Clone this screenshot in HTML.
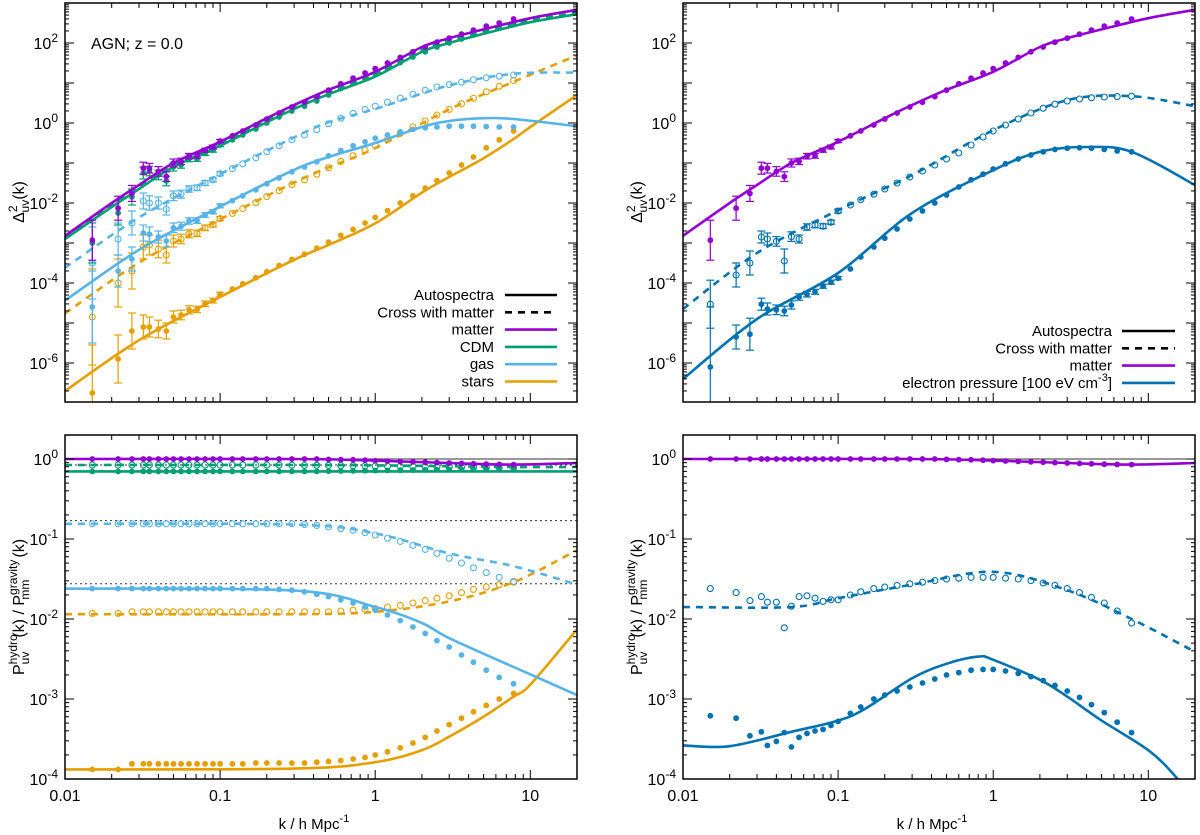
<!DOCTYPE html>
<html><head><meta charset="utf-8">
<style>
html,body{margin:0;padding:0;background:#fff;}
svg{display:block;font-family:"Liberation Sans",sans-serif;}
</style></head>
<body>
<svg id="fig" width="1200" height="835" viewBox="0 0 1200 835" xmlns="http://www.w3.org/2000/svg"></svg>
<script>
// ---------- data (log10 values) ----------
const kPts = [0.015,0.022,0.027,0.032,0.035,0.04,0.045,0.05,0.056,0.063,0.071,0.08,0.09,0.1,0.12,0.14,0.17,0.2,0.24,0.29,0.35,0.42,0.5,0.6,0.72,0.86,1.0,1.2,1.45,1.75,2.1,2.5,3.0,3.6,4.3,5.2,6.3,7.8];

// top-left curves
const kMatC = [0.01,0.02,0.03,0.05,0.1,0.2,0.3,0.5,1,2,3,5,10,20];
const matC  = [-2.82,-2.0,-1.55,-1.0,-0.47,0.12,0.45,0.83,1.28,1.9,2.12,2.34,2.62,2.83];
const cdmC  = [-2.9,-2.1,-1.65,-1.1,-0.57,0.02,0.35,0.72,1.16,1.78,2.0,2.23,2.52,2.72];
const cdmXC = [-2.86,-2.05,-1.6,-1.05,-0.52,0.07,0.4,0.77,1.21,1.83,2.06,2.28,2.56,2.76];
const kGasXC = [0.01,0.03,0.1,0.3,0.5,1,3,7.8,20];
const gasXC  = [-3.62,-2.36,-1.28,-0.36,0.02,0.35,0.94,1.23,1.26];
const kGasAC = [0.01,0.03,0.1,0.3,0.5,1,2,3,5,7.8,20];
const gasAC  = [-4.44,-3.17,-2.09,-1.17,-0.85,-0.5,-0.1,0.05,0.12,0.1,-0.08];
const kStarXC = [0.01,0.03,0.1,0.3,0.5,1,3,7.8,20];
const starXC  = [-4.76,-3.49,-2.41,-1.49,-1.11,-0.63,0.34,1.03,1.69];
const kStarAC = [0.01,0.03,0.1,0.3,0.5,1,2,3,5,7.8,10,20];
const starAC  = [-6.7,-5.43,-4.35,-3.42,-3.05,-2.51,-1.74,-1.35,-0.88,-0.4,-0.1,0.7];

// top-left points
const matP  = [-2.93,-2.13,-1.76,-1.13,-1.13,-1.21,-1.34,-1.0,-0.96,-0.83,-0.82,-0.68,-0.6,-0.45,-0.32,-0.2,-0.05,0.1,0.25,0.4,0.52,0.66,0.82,0.98,1.12,1.25,1.36,1.5,1.64,1.78,1.9,2.02,2.12,2.22,2.32,2.42,2.5,2.6];
const cdmP  = [-3.0,-2.25,-1.85,-1.25,-1.2,-1.3,-1.45,-1.1,-1.05,-0.9,-0.9,-0.76,-0.68,-0.55,-0.42,-0.3,-0.15,0.0,0.15,0.3,0.42,0.55,0.7,0.86,1.0,1.12,1.23,1.37,1.51,1.65,1.78,1.9,2.0,2.1,2.2,2.3,2.4,2.5];
const gasXP = [-3.5,-2.9,-2.5,-1.95,-2.0,-2.0,-2.15,-1.82,-1.78,-1.65,-1.62,-1.5,-1.42,-1.27,-1.14,-1.02,-0.87,-0.72,-0.57,-0.42,-0.3,-0.17,-0.02,0.12,0.24,0.34,0.42,0.52,0.62,0.72,0.82,0.9,0.96,1.02,1.08,1.13,1.17,1.2];
const gasAP = [-4.6,-3.7,-3.4,-2.75,-2.78,-2.85,-2.95,-2.62,-2.58,-2.45,-2.44,-2.3,-2.22,-2.07,-1.94,-1.82,-1.67,-1.52,-1.37,-1.22,-1.1,-0.97,-0.82,-0.69,-0.57,-0.47,-0.38,-0.3,-0.22,-0.16,-0.12,-0.1,-0.08,-0.08,-0.08,-0.09,-0.1,-0.1];
const starXP = [-4.85,-4.0,-3.7,-3.1,-3.05,-3.15,-3.3,-2.95,-2.9,-2.77,-2.76,-2.62,-2.54,-2.39,-2.26,-2.14,-1.99,-1.84,-1.69,-1.54,-1.42,-1.28,-1.12,-0.96,-0.82,-0.68,-0.56,-0.41,-0.26,-0.1,0.05,0.2,0.34,0.48,0.62,0.78,0.92,1.06];
const starAP = [-6.75,-5.9,-5.2,-5.1,-5.1,-5.15,-5.2,-4.85,-4.8,-4.67,-4.66,-4.52,-4.44,-4.28,-4.15,-4.02,-3.87,-3.72,-3.56,-3.41,-3.28,-3.13,-2.98,-2.81,-2.66,-2.5,-2.36,-2.19,-2.0,-1.82,-1.63,-1.44,-1.25,-1.05,-0.85,-0.62,-0.42,-0.2];
// error bars (dex) on first points
const errMat  = [0.5,0.3,0.2,0.15,0.12,0.12,0.12,0.1,0.08,0.07,0.06,0.05,0.05,0.04];
const errGas  = [0.9,0.4,0.3,0.2,0.18,0.15,0.15,0.12,0.1,0.08,0.07,0.06,0.05,0.05];
const errStar = [1.2,0.6,0.45,0.3,0.25,0.22,0.2,0.15,0.12,0.1,0.08,0.07,0.06,0.05];

// top-right pressure
const kPXC = [0.01,0.03,0.1,0.3,1,3,7.8,20];
const pXC  = [-4.65,-3.25,-2.18,-1.3,-0.18,0.57,0.67,0.42];
const kPAC = [0.01,0.03,0.1,0.3,1,2,4,7.8,20];
const pAC  = [-6.4,-4.9,-3.75,-2.25,-1.18,-0.72,-0.6,-0.72,-1.55];
const pXP = [-4.53,-3.8,-3.5,-2.85,-2.9,-2.96,-3.45,-2.84,-2.9,-2.6,-2.55,-2.58,-2.48,-2.2,-2.05,-1.92,-1.78,-1.65,-1.5,-1.35,-1.2,-1.05,-0.9,-0.75,-0.55,-0.35,-0.2,-0.05,0.1,0.25,0.37,0.47,0.55,0.6,0.63,0.65,0.66,0.67];
const pAP = [-6.1,-5.35,-5.28,-4.53,-4.65,-4.67,-4.7,-4.55,-4.35,-4.28,-4.22,-4.08,-3.98,-3.88,-3.65,-3.35,-3.1,-2.88,-2.65,-2.4,-2.2,-2.0,-1.8,-1.6,-1.42,-1.28,-1.15,-1.02,-0.9,-0.8,-0.72,-0.66,-0.63,-0.62,-0.63,-0.66,-0.7,-0.72];
const errPX = [0.6,0.3,0.3,0.15,0.15,0.12,0.3,0.12,0.1,0.08,0.07,0.06,0.05,0.05];
const errPA = [1.5,0.3,0.4,0.15,0.15,0.12,0.12,0.1,0.08,0.07,0.06,0.05,0.05,0.04];

// bottom-left ratios
const kRMC = [0.01,0.3,1,3,7.8,20];
const rMatC = [0,0,-0.02,-0.05,-0.07,-0.05];
const rCdmAC = [-0.155,-0.155,-0.155,-0.155,-0.155,-0.155];
const rCdmXC = [-0.075,-0.075,-0.08,-0.09,-0.1,-0.1];
const rGasXC = [-0.81,-0.82,-0.93,-1.18,-1.34,-1.57];
const rStarXC = [-1.94,-1.94,-1.91,-1.78,-1.54,-1.14];
const kRGAC = [0.01,0.3,1,2,3,7.8,20];
const rGasAC = [-1.62,-1.645,-1.85,-2.05,-2.24,-2.6,-2.95];
const kRSAC = [0.01,0.3,1,2,3,5,7.8,10,20];
const rStarAC = [-3.88,-3.87,-3.79,-3.64,-3.47,-3.22,-2.97,-2.82,-2.13];
const rMatP = [0,0,0,0,0,0,0,0,0,0,0,0,0,0,0,0,0,0,0,0,0,0,-0.005,-0.008,-0.01,-0.015,-0.02,-0.025,-0.03,-0.035,-0.04,-0.045,-0.05,-0.055,-0.06,-0.065,-0.068,-0.07];
const rCdmAP = [-0.155,-0.155,-0.155,-0.155,-0.155,-0.155,-0.155,-0.155,-0.155,-0.155,-0.155,-0.155,-0.155,-0.155,-0.155,-0.155,-0.155,-0.155,-0.155,-0.155,-0.155,-0.155,-0.152,-0.15,-0.148,-0.146,-0.144,-0.142,-0.14,-0.138,-0.136,-0.134,-0.132,-0.13,-0.128,-0.127,-0.126,-0.125];
const rCdmXP = [-0.075,-0.075,-0.075,-0.075,-0.075,-0.075,-0.075,-0.075,-0.075,-0.075,-0.075,-0.075,-0.075,-0.075,-0.075,-0.075,-0.075,-0.075,-0.076,-0.077,-0.078,-0.079,-0.08,-0.082,-0.084,-0.086,-0.088,-0.09,-0.092,-0.094,-0.096,-0.098,-0.1,-0.102,-0.104,-0.106,-0.108,-0.11];
const rGasXP = [-0.81,-0.81,-0.81,-0.81,-0.81,-0.81,-0.81,-0.81,-0.81,-0.81,-0.81,-0.81,-0.81,-0.81,-0.81,-0.81,-0.81,-0.81,-0.81,-0.81,-0.82,-0.83,-0.85,-0.87,-0.89,-0.92,-0.95,-0.99,-1.03,-1.08,-1.13,-1.18,-1.24,-1.3,-1.36,-1.42,-1.48,-1.53];
const rGasAP = [-1.62,-1.62,-1.62,-1.62,-1.62,-1.62,-1.62,-1.62,-1.62,-1.62,-1.62,-1.62,-1.62,-1.62,-1.62,-1.62,-1.62,-1.62,-1.63,-1.64,-1.66,-1.69,-1.72,-1.76,-1.8,-1.85,-1.89,-1.95,-2.02,-2.1,-2.18,-2.27,-2.35,-2.45,-2.54,-2.64,-2.73,-2.81];
const rStarXP = [-1.93,-1.93,-1.91,-1.91,-1.91,-1.91,-1.91,-1.91,-1.91,-1.91,-1.91,-1.91,-1.91,-1.91,-1.91,-1.91,-1.91,-1.91,-1.91,-1.91,-1.91,-1.91,-1.91,-1.9,-1.89,-1.88,-1.87,-1.85,-1.83,-1.8,-1.77,-1.74,-1.71,-1.67,-1.63,-1.6,-1.57,-1.54];
const rStarAP = [-3.88,-3.88,-3.81,-3.81,-3.81,-3.81,-3.81,-3.81,-3.81,-3.81,-3.81,-3.81,-3.81,-3.81,-3.81,-3.81,-3.8,-3.8,-3.8,-3.8,-3.8,-3.79,-3.78,-3.77,-3.75,-3.73,-3.7,-3.66,-3.61,-3.55,-3.48,-3.4,-3.32,-3.24,-3.16,-3.08,-3.0,-2.93];
const refLines = [0, -0.075, -0.77, -1.56];

// bottom-right ratios
const kRPXC = [0.01,0.05,0.1,0.3,1,3,7.8,20];
const rPXC = [-1.85,-1.85,-1.74,-1.57,-1.41,-1.64,-2.0,-2.41];
const kRPAC = [0.01,0.02,0.05,0.1,0.15,0.3,0.5,0.8,1,2,3,5,10,15,20];
const rPAC = [-3.58,-3.59,-3.41,-3.27,-3.12,-2.74,-2.56,-2.47,-2.51,-2.76,-2.97,-3.27,-3.64,-3.97,-4.3];
const rPXP = [-1.62,-1.67,-1.77,-1.72,-1.79,-1.79,-2.11,-1.84,-1.72,-1.71,-1.74,-1.78,-1.76,-1.76,-1.7,-1.66,-1.62,-1.6,-1.58,-1.56,-1.54,-1.52,-1.5,-1.49,-1.48,-1.48,-1.48,-1.49,-1.5,-1.52,-1.55,-1.58,-1.62,-1.67,-1.73,-1.8,-1.9,-2.05];
const rPAP = [-3.21,-3.24,-3.46,-3.41,-3.58,-3.53,-3.42,-3.6,-3.48,-3.43,-3.4,-3.38,-3.33,-3.28,-3.18,-3.1,-3.0,-2.95,-2.9,-2.85,-2.8,-2.75,-2.7,-2.67,-2.64,-2.63,-2.63,-2.65,-2.68,-2.72,-2.77,-2.83,-2.9,-2.98,-3.07,-3.17,-3.29,-3.42];

const xTicks = [0.01,0.1,1,10];
const xTickLabels = ["0.01","0.1","1","10"];
const topYLabels = [2,0,-2,-4,-6];
const botYLabels = [0,-1,-2,-3,-4];

const C = {mat:"#9400d3", cdm:"#009e73", gas:"#56b4e9", star:"#e69f00", pe:"#0072b2"};
// ---------- helpers ----------
const svg = document.getElementById('fig');
const NS = "http://www.w3.org/2000/svg";
function mk(tag, attrs, parent){ const e=document.createElementNS(NS,tag); for(const a in attrs) e.setAttribute(a,attrs[a]); (parent||svg).appendChild(e); return e; }

function panel(x0, top, w, h, lo, hi){
  const xs = k => x0 + (Math.log10(k)+2)/(Math.log10(20)+2)*w;
  const ys = lv => top + (hi-lv)/(hi-lo)*h;
  return {x0, top, w, h, lo, hi, xs, ys};
}
const PTL = panel(65, 3, 512, 399, -6.975, 3);
const PTR = panel(683, 3, 512, 399, -6.975, 3);
const PBL = panel(65, 435, 512, 344, -4, 0.3);
const PBR = panel(683, 435, 512, 344, -4, 0.3);

function clip(P, id){
  const d = mk('clipPath',{id});
  mk('rect',{x:P.x0,y:P.top,width:P.w,height:P.h},d);
}
function smoothPath(pts){
  let d = `M${pts[0][0].toFixed(1)},${pts[0][1].toFixed(1)}`;
  for(let i=0;i<pts.length-1;i++){
    const p0=pts[Math.max(0,i-1)], p1=pts[i], p2=pts[i+1], p3=pts[Math.min(pts.length-1,i+2)];
    const c1=[p1[0]+(p2[0]-p0[0])/6, p1[1]+(p2[1]-p0[1])/6];
    const c2=[p2[0]-(p3[0]-p1[0])/6, p2[1]-(p3[1]-p1[1])/6];
    d+=` C${c1[0].toFixed(1)},${c1[1].toFixed(1)} ${c2[0].toFixed(1)},${c2[1].toFixed(1)} ${p2[0].toFixed(1)},${p2[1].toFixed(1)}`;
  }
  return d;
}
function curve(P, g, ks, vs, color, dashed, name){
  const pts = ks.map((k,i)=>[P.xs(k), P.ys(vs[i])]);
  const e = mk('path',{d:smoothPath(pts), fill:'none', stroke:color, 'stroke-width':2.6, 'stroke-dasharray': dashed?'7,6':'none'}, g);
  
  
}
function points(P, g, vs, color, open, name, errs){
  const grp = mk('g',{},g);
  
  
  vs.forEach((v,i)=>{
    const x=P.xs(kPts[i]), y=P.ys(v);
    if(errs && i<errs.length){
      const y1=P.ys(v+errs[i]), y2=P.ys(v-errs[i]);
      mk('line',{x1:x,y1:y1,x2:x,y2:y2,stroke:color,'stroke-width':1.2},grp);
      mk('line',{x1:x-4,y1:y1,x2:x+4,y2:y1,stroke:color,'stroke-width':1.2},grp);
      mk('line',{x1:x-4,y1:y2,x2:x+4,y2:y2,stroke:color,'stroke-width':1.2},grp);
    }
    if(open) mk('circle',{cx:x,cy:y,r:3,fill:'none',stroke:color,'stroke-width':1.1},grp);
    else mk('circle',{cx:x,cy:y,r:2.9,fill:color},grp);
  });
}
function frame(P, name, yLabelDecades, everyDecadeTicks){
  const g = mk('g',{});
  
  
  // x ticks
  for(let d=-2; d<=1; d++){
    for(let m=1; m<=9; m++){
      const k=m*Math.pow(10,d); if(k>20) break;
      const x=P.xs(k), L = m===1?9:5;
      mk('line',{x1:x,y1:P.top+P.h,x2:x,y2:P.top+P.h-L,stroke:'#000','stroke-width':1},g);
      mk('line',{x1:x,y1:P.top,x2:x,y2:P.top+L,stroke:'#000','stroke-width':1},g);
    }
  }
  // y ticks
  for(let d=Math.floor(P.lo); d<=Math.ceil(P.hi); d++){
    for(let m=1; m<=9; m++){
      const lv=d+Math.log10(m); if(lv<P.lo||lv>P.hi) continue;
      const y=P.ys(lv), L = m===1?9:4;
      mk('line',{x1:P.x0,y1:y,x2:P.x0+L,y2:y,stroke:'#000','stroke-width':1},g);
      mk('line',{x1:P.x0+P.w,y1:y,x2:P.x0+P.w-L,y2:y,stroke:'#000','stroke-width':1},g);
    }
  }
  mk('rect',{x:P.x0,y:P.top,width:P.w,height:P.h,fill:'none',stroke:'#000','stroke-width':1.5},g);
  yLabelDecades.forEach(d=>{
    const t = mk('text',{x:P.x0-7,y:P.ys(d)+6,'text-anchor':'end','font-size':16},g);
    
    
    t.appendChild(document.createTextNode('10'));
    const s = mk('tspan',{dy:-7,'font-size':12},t); s.textContent=String(d).replace('-','-');
  });
  return g;
}
function xLabels(P){
  xTicks.forEach((k,i)=>{
    const t = mk('text',{x:P.xs(k),y:801,'text-anchor':'middle','font-size':16});
    
    
    t.textContent = xTickLabels[i];
  });
  const t = mk('text',{x:P.x0+P.w/2-7,y:829,'text-anchor':'middle','font-size':15});
  
  
  t.appendChild(document.createTextNode('k / h Mpc'));
  const s = mk('tspan',{dy:-7,'font-size':11},t); s.textContent='-1';
}
function yTitleTop(x){
  const t = mk('text',{transform:`translate(${x},202) rotate(-90)`,'text-anchor':'middle','font-size':16});
  
  
  t.appendChild(document.createTextNode('Δ'));
  const a = mk('tspan',{dy:-7,'font-size':12},t); a.textContent='2';
  const b = mk('tspan',{dx:-7,dy:12,'font-size':12},t); b.textContent='uv';
  const c = mk('tspan',{dy:-5},t); c.textContent='(k)';
}
function yTitleBot(x){
  const t = mk('text',{transform:`translate(${x},607) rotate(-90)`,'text-anchor':'middle','font-size':16});
  
  
  t.appendChild(document.createTextNode('P'));
  const a = mk('tspan',{dy:-7,'font-size':12},t); a.textContent='hydro';
  const b = mk('tspan',{dx:-30,dy:12,'font-size':12},t); b.textContent='uv';
  const c = mk('tspan',{dx:14,dy:-5},t); c.textContent='(k) / P';
  const d = mk('tspan',{dy:-7,'font-size':12},t); d.textContent='gravity';
  const e = mk('tspan',{dx:-40,dy:12,'font-size':12},t); e.textContent='mm';
  const f = mk('tspan',{dx:22,dy:-5},t); f.textContent='(k)';
}
function legend(rows, xr, l0, l1, y0, dy, name){
  const g = mk('g',{});
  
  
  rows.forEach((r,i)=>{
    const y=y0+i*dy;
    const t = mk('text',{x:xr,y:y+5,'text-anchor':'end','font-size':15},g);
    
    
    t.appendChild(document.createTextNode(r[0]));
    if(r[3]){ const s=mk('tspan',{dy:-7,'font-size':11},t); s.textContent=r[3]; const s2=mk('tspan',{dy:7},t); s2.textContent=r[4]; }
    mk('line',{x1:l0,y1:y,x2:l1,y2:y,stroke:r[1],'stroke-width':2.6,'stroke-dasharray':r[2]?'7,6':'none'},g);
  });
}
// ---------- build ----------
const defs = mk('defs',{});
[[PTL,'cTL'],[PTR,'cTR'],[PBL,'cBL'],[PBR,'cBR']].forEach(([P,id])=>{ const cp=mk('clipPath',{id},defs); mk('rect',{x:P.x0,y:P.top,width:P.w,height:P.h},cp); });

// Top-left
let g = mk('g',{'clip-path':'url(#cTL)'});  
points(PTL,g,starAP,C.star,false,'stars-auto-points',errStar);
points(PTL,g,starXP,C.star,true,'stars-cross-points',errStar);
curve(PTL,g,kStarAC,starAC,C.star,false,'stars-auto-curve');
curve(PTL,g,kStarXC,starXC,C.star,true,'stars-cross-curve');
points(PTL,g,gasAP,C.gas,false,'gas-auto-points',errGas);
points(PTL,g,gasXP,C.gas,true,'gas-cross-points',errGas);
curve(PTL,g,kGasAC,gasAC,C.gas,false,'gas-auto-curve');
curve(PTL,g,kGasXC,gasXC,C.gas,true,'gas-cross-curve');
points(PTL,g,cdmP,C.cdm,false,'cdm-points',errMat);
curve(PTL,g,kMatC,cdmC,C.cdm,false,'cdm-auto-curve');
curve(PTL,g,kMatC,cdmXC,C.cdm,true,'cdm-cross-curve');
points(PTL,g,matP,C.mat,false,'matter-points',errMat);
curve(PTL,g,kMatC,matC,C.mat,false,'matter-curve');
frame(PTL,'top-left',topYLabels);
yTitleTop(24);
const agn = mk('text',{x:91,y:49,'font-size':16}); agn.textContent='AGN; z = 0.0';
 
legend([["Autospectra","#000",false],["Cross with matter","#000",true],["matter",C.mat,false],["CDM",C.cdm,false],["gas",C.gas,false],["stars",C.star,false]],494,505,557,295,17.3,'legend-top-left');

// Top-right
g = mk('g',{'clip-path':'url(#cTR)'});  
points(PTR,g,pAP,C.pe,false,'pressure-auto-points',errPA);
points(PTR,g,pXP,C.pe,true,'pressure-cross-points',errPX);
curve(PTR,g,kPAC,pAC,C.pe,false,'pressure-auto-curve');
curve(PTR,g,kPXC,pXC,C.pe,true,'pressure-cross-curve');
points(PTR,g,matP,C.mat,false,'matter-points',errMat);
curve(PTR,g,kMatC,matC,C.mat,false,'matter-curve');
frame(PTR,'top-right',topYLabels);
yTitleTop(642);
legend([["Autospectra","#000",false],["Cross with matter","#000",true],["matter",C.mat,false],["electron pressure [100 eV cm",C.pe,false,"-3","]"]],1112,1122,1175,331,17.3,'legend-top-right');

// Bottom-left
g = mk('g',{'clip-path':'url(#cBL)'});  
refLines.forEach((v,i)=>{ const l=mk('line',{x1:PBL.x0,y1:PBL.ys(v),x2:PBL.x0+PBL.w,y2:PBL.ys(v),stroke:'#333','stroke-width':1,'stroke-dasharray':i===0?'none':'2,3'},g);   });
points(PBL,g,rStarAP,C.star,false,'stars-auto-ratio-points');
points(PBL,g,rStarXP,C.star,true,'stars-cross-ratio-points');
curve(PBL,g,kRSAC,rStarAC,C.star,false,'stars-auto-ratio-curve');
curve(PBL,g,kRMC,rStarXC,C.star,true,'stars-cross-ratio-curve');
points(PBL,g,rGasAP,C.gas,false,'gas-auto-ratio-points');
points(PBL,g,rGasXP,C.gas,true,'gas-cross-ratio-points');
curve(PBL,g,kRGAC,rGasAC,C.gas,false,'gas-auto-ratio-curve');
curve(PBL,g,kRMC,rGasXC,C.gas,true,'gas-cross-ratio-curve');
points(PBL,g,rCdmAP,C.cdm,false,'cdm-auto-ratio-points');
points(PBL,g,rCdmXP,C.cdm,true,'cdm-cross-ratio-points');
curve(PBL,g,kRMC,rCdmAC,C.cdm,false,'cdm-auto-ratio-curve');
curve(PBL,g,kRMC,rCdmXC,C.cdm,true,'cdm-cross-ratio-curve');
points(PBL,g,rMatP,C.mat,false,'matter-ratio-points');
curve(PBL,g,kRMC,rMatC,C.mat,false,'matter-ratio-curve');
frame(PBL,'bottom-left',botYLabels);
yTitleBot(24);
xLabels(PBL);

// Bottom-right
g = mk('g',{'clip-path':'url(#cBR)'});  
{ const l=mk('line',{x1:PBR.x0,y1:PBR.ys(0),x2:PBR.x0+PBR.w,y2:PBR.ys(0),stroke:'#333','stroke-width':1},g);   }
points(PBR,g,rPAP,C.pe,false,'pressure-auto-ratio-points');
points(PBR,g,rPXP,C.pe,true,'pressure-cross-ratio-points');
curve(PBR,g,kRPAC,rPAC,C.pe,false,'pressure-auto-ratio-curve');
curve(PBR,g,kRPXC,rPXC,C.pe,true,'pressure-cross-ratio-curve');
points(PBR,g,rMatP,C.mat,false,'matter-ratio-points');
curve(PBR,g,kRMC,rMatC,C.mat,false,'matter-ratio-curve');
frame(PBR,'bottom-right',botYLabels);
yTitleBot(642);
xLabels(PBR);
</script>
</body></html>
